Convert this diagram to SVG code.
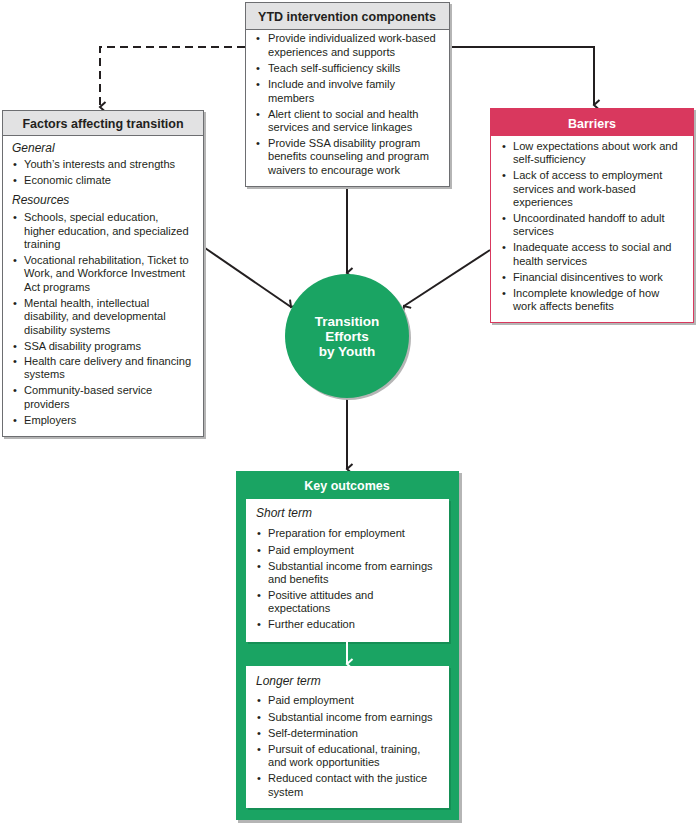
<svg xmlns="http://www.w3.org/2000/svg" width="698" height="824" viewBox="0 0 698 824">
<defs>
<marker id="arr" viewBox="0 0 12 10" refX="6" refY="8" markerWidth="12" markerHeight="10" markerUnits="userSpaceOnUse" orient="auto-start-reverse">
<path d="M1,2.5 L6,8 L11,2.5" fill="none" stroke="#231f20" stroke-width="2"/>
</marker>
<marker id="arrw" viewBox="0 0 12 10" refX="6" refY="8" markerWidth="12" markerHeight="10" markerUnits="userSpaceOnUse" orient="auto">
<path d="M1,2.5 L6,8 L11,2.5" fill="none" stroke="#ffffff" stroke-width="2"/>
</marker>
</defs>
<style>
text{font-family:"Liberation Sans",Arial,sans-serif;fill:#231f20;font-size:11.1px}
.h{font-weight:bold;font-size:12.5px;text-anchor:middle}
.hw{font-weight:bold;font-size:12.5px;text-anchor:middle;fill:#fff}
.c{font-size:13.5px}
.i{font-style:italic;font-size:12px}
.sh{fill:#b5b5b5}
.box{fill:#fff;stroke:#6d6e71;stroke-width:1}
.hd{fill:#e2e2e3;stroke:#6d6e71;stroke-width:1}
.ln{fill:none;stroke:#231f20;stroke-width:2}
</style>
<rect width="698" height="824" fill="#fff"/>
<g id="connectors">
<path class="ln" d="M449,47 H594 V105" marker-end="url(#arr)"/>
<path class="ln" d="M245,47 H100 V107" stroke-dasharray="8,5" marker-end="url(#arr)"/>
<path class="ln" d="M347,188 V273" marker-end="url(#arr)"/>
<path class="ln" d="M205,248 L291,307" marker-end="url(#arr)"/>
<path class="ln" d="M490,250 L404,306" marker-end="url(#arr)"/>
<path class="ln" d="M347,398 V469" marker-end="url(#arr)"/>
</g>
<g id="ytd">
<rect class="sh" x="247" y="4" width="205" height="185"/>
<rect class="box" x="245.5" y="2.5" width="204" height="184"/>
<rect class="hd" x="245.5" y="2.5" width="204" height="27"/>
<text class="h" x="347" y="21">YTD intervention components</text>
<g>
<text x="256" y="42">•</text><text x="268" y="42">Provide individualized work-based</text>
<text x="268" y="56">experiences and supports</text>
<text x="256" y="72">•</text><text x="268" y="72">Teach self-sufficiency skills</text>
<text x="256" y="88">•</text><text x="268" y="88">Include and involve family</text>
<text x="268" y="102">members</text>
<text x="256" y="118">•</text><text x="268" y="118">Alert client to social and health</text>
<text x="268" y="131">services and service linkages</text>
<text x="256" y="147">•</text><text x="268" y="147">Provide SSA disability program</text>
<text x="268" y="160">benefits counseling and program</text>
<text x="268" y="174">waivers to encourage work</text>
</g>
</g>
<g id="factors">
<rect class="sh" x="4" y="112" width="202" height="327"/>
<rect class="box" x="2.5" y="110.5" width="201" height="326"/>
<rect class="hd" x="2.5" y="110.5" width="201" height="25"/>
<text class="h" x="103" y="128">Factors affecting transition</text>
<text class="i" x="12" y="152">General</text>
<text x="13" y="168">•</text><text x="24" y="168">Youth’s interests and strengths</text>
<text x="13" y="184">•</text><text x="24" y="184">Economic climate</text>
<text class="i" x="12" y="204">Resources</text>
<text x="13" y="221">•</text><text x="24" y="221">Schools, special education,</text>
<text x="24" y="235">higher education, and specialized</text>
<text x="24" y="248">training</text>
<text x="13" y="264">•</text><text x="24" y="264">Vocational rehabilitation, Ticket to</text>
<text x="24" y="277">Work, and Workforce Investment</text>
<text x="24" y="291">Act programs</text>
<text x="13" y="307">•</text><text x="24" y="307">Mental health, intellectual</text>
<text x="24" y="320">disability, and developmental</text>
<text x="24" y="334">disability systems</text>
<text x="13" y="350">•</text><text x="24" y="350">SSA disability programs</text>
<text x="13" y="365">•</text><text x="24" y="365">Health care delivery and financing</text>
<text x="24" y="378">systems</text>
<text x="13" y="394">•</text><text x="24" y="394">Community-based service</text>
<text x="24" y="408">providers</text>
<text x="13" y="424">•</text><text x="24" y="424">Employers</text>
</g>
<g id="barriers">
<rect class="sh" x="492" y="110" width="204" height="215"/>
<rect x="490.5" y="108.5" width="203" height="214" fill="#fff" stroke="#d9385e" stroke-width="1"/>
<rect x="490.5" y="108.5" width="203" height="27" fill="#d9385e" stroke="#d9385e" stroke-width="1"/>
<text class="hw" x="592" y="128">Barriers</text>
<text x="502" y="150">•</text><text x="513" y="150">Low expectations about work and</text>
<text x="513" y="163">self-sufficiency</text>
<text x="502" y="179">•</text><text x="513" y="179">Lack of access to employment</text>
<text x="513" y="193">services and work-based</text>
<text x="513" y="206">experiences</text>
<text x="502" y="222">•</text><text x="513" y="222">Uncoordinated handoff to adult</text>
<text x="513" y="235">services</text>
<text x="502" y="251">•</text><text x="513" y="251">Inadequate access to social and</text>
<text x="513" y="265">health services</text>
<text x="502" y="281">•</text><text x="513" y="281">Financial disincentives to work</text>
<text x="502" y="297">•</text><text x="513" y="297">Incomplete knowledge of how</text>
<text x="513" y="310">work affects benefits</text>
</g>
<g id="transition">
<circle cx="349" cy="338" r="62" fill="#b5b5b5"/>
<circle cx="347" cy="336" r="62" fill="#1aa463"/>
<text class="hw c" x="347" y="326">Transition</text>
<text class="hw c" x="347" y="341">Efforts</text>
<text class="hw c" x="347" y="356">by Youth</text>
</g>
<g id="outcomes">
<rect class="sh" x="238" y="473" width="224" height="350"/>
<rect x="236" y="471" width="223" height="349" fill="#1aa463"/>
<text class="hw" x="347" y="490">Key outcomes</text>
<rect x="248" y="501" width="203" height="143" fill="#0f7a47" opacity="0.5"/>
<rect x="246" y="499" width="203" height="143" fill="#fff"/>
<text class="i" x="256" y="517">Short term</text>
<text x="257" y="537">•</text><text x="268" y="537">Preparation for employment</text>
<text x="257" y="554">•</text><text x="268" y="554">Paid employment</text>
<text x="257" y="570">•</text><text x="268" y="570">Substantial income from earnings</text>
<text x="268" y="583">and benefits</text>
<text x="257" y="599">•</text><text x="268" y="599">Positive attitudes and</text>
<text x="268" y="612">expectations</text>
<text x="257" y="628">•</text><text x="268" y="628">Further education</text>
<path d="M347,642 V664" fill="none" stroke="#fff" stroke-width="2" marker-end="url(#arrw)"/>
<rect x="248" y="668" width="203" height="142" fill="#0f7a47" opacity="0.5"/>
<rect x="246" y="666" width="203" height="142" fill="#fff"/>
<text class="i" x="256" y="685">Longer term</text>
<text x="257" y="704">•</text><text x="268" y="704">Paid employment</text>
<text x="257" y="721">•</text><text x="268" y="721">Substantial income from earnings</text>
<text x="257" y="737">•</text><text x="268" y="737">Self-determination</text>
<text x="257" y="753">•</text><text x="268" y="753">Pursuit of educational, training,</text>
<text x="268" y="766">and work opportunities</text>
<text x="257" y="782">•</text><text x="268" y="782">Reduced contact with the justice</text>
<text x="268" y="796">system</text>
</g>
</svg>
